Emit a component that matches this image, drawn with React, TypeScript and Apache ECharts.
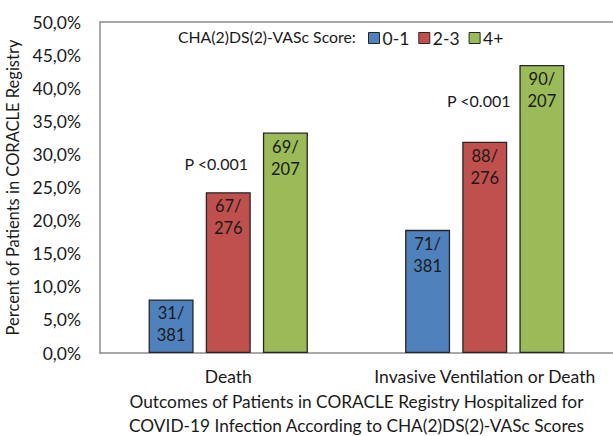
import React, { useEffect, useRef } from "react";
import * as echarts from "echarts";

const categories = ["Death", "Invasive Ventilation or Death"];
const seriesNames = ["0-1", "2-3", "4+"];
const seriesColors = ["#4F81BD", "#C0504D", "#9BBB59"];
const values01 = [8.1, 18.6];
const values23 = [24.3, 31.9];
const values4p = [33.3, 43.5];
const labels01 = ["31/\n381", "71/\n381"];
const labels23 = ["67/\n276", "88/\n276"];
const labels4p = ["69/\n207", "90/\n207"];
const pLabel = "P <0.001";
const legendTitle = "CHA(2)DS(2)-VASc Score:";
const yTitle = "Percent of Patients in CORACLE Registry";
const xTitle = "Outcomes of Patients in CORACLE Registry Hospitalized for\nCOVID-19 Infection According to CHA(2)DS(2)-VASc Scores";

const FONT = "Lato, 'Open Sans', sans-serif";

export default function App() {
  const ref = useRef<HTMLDivElement>(null);
  useEffect(() => {
    document.body.style.margin = "0";
    const chart = echarts.init(ref.current!, undefined, { renderer: "svg" });
    const allVals = [values01, values23, values4p];
    const allLabels = [labels01, labels23, labels4p];
    const series: any[] = seriesNames.map((name, i) => ({
      type: "bar",
      name,
      barWidth: 45,
      barGap: "27%",
      data: allVals[i],
      itemStyle: { color: seriesColors[i], borderColor: "#262626", borderWidth: 1.3 },
      label: {
        show: true,
        position: "insideTop",
        distance: 3,
        formatter: (p: any) => allLabels[i][p.dataIndex],
        color: "#1a1a1a",
        fontSize: 16.5,
        lineHeight: 22,
        fontFamily: FONT,
      },
    }));
    series[1].markPoint = {
      symbol: "rect",
      symbolSize: 0,
      label: {
        show: true,
        formatter: pLabel,
        color: "#1a1a1a",
        fontSize: 16,
        fontFamily: FONT,
        position: "inside",
      },
      data: [
        { coord: [0, 28.6], value: 0, label: { offset: [-12, 0] } },
        { coord: [1, 38.1], value: 0, label: { offset: [-6, 0] } },
      ],
    };
    chart.setOption({
      animation: false,
      textStyle: { fontFamily: FONT },
      grid: { left: 100, right: 0, top: 22, bottom: 83, outerBoundsMode: "none" },
      legend: {
        left: 368,
        top: 29,
        padding: 0,
        itemWidth: 11,
        itemHeight: 11,
        itemGap: 9,
        icon: "rect",
        data: seriesNames.map((n, i) => ({
          name: n,
          itemStyle: { color: seriesColors[i], borderColor: "#262626", borderWidth: 1 },
        })),
        textStyle: { fontSize: 17.5, color: "#1a1a1a", fontFamily: FONT, padding: [0, 0, 0, -2] },
      },
      graphic: [
        {
          type: "text",
          left: 178,
          top: 28,
          style: { text: legendTitle, fontSize: 15.8, fill: "#1a1a1a", fontFamily: FONT },
        },
      ],
      xAxis: [
        {
          type: "category",
          data: categories,
          axisLine: { lineStyle: { color: "#8c8c8c", width: 1.5 } },
          axisTick: { show: false },
          axisLabel: { interval: 0, fontSize: 17.5, color: "#1a1a1a", margin: 14, fontFamily: FONT },
          name: xTitle,
          nameLocation: "middle",
          nameGap: 36,
          nameTextStyle: { fontSize: 17.3, color: "#1a1a1a", lineHeight: 24, fontFamily: FONT },
        },
        {
          type: "category",
          position: "top",
          data: categories,
          axisLine: { show: true, lineStyle: { color: "#8c8c8c", width: 1.5 } },
          axisTick: { show: false },
          axisLabel: { show: false },
        },
      ],
      yAxis: {
        type: "value",
        min: 0,
        max: 50,
        interval: 5,
        splitLine: { show: false },
        axisLine: { show: true, lineStyle: { color: "#8c8c8c", width: 1.5 } },
        axisTick: { show: false },
        axisLabel: {
          fontSize: 17.5,
          color: "#1a1a1a",
          margin: 19,
          fontFamily: FONT,
          formatter: (v: number) => v.toFixed(1).replace(".", ",") + "%",
        },
        name: yTitle,
        nameLocation: "middle",
        nameGap: 65,
        nameTextStyle: { fontSize: 16.5, color: "#1a1a1a", fontFamily: FONT },
      },
      series,
    });
    return () => chart.dispose();
  }, []);
  return <div ref={ref} style={{ width: 613, height: 436 }} />;
}
